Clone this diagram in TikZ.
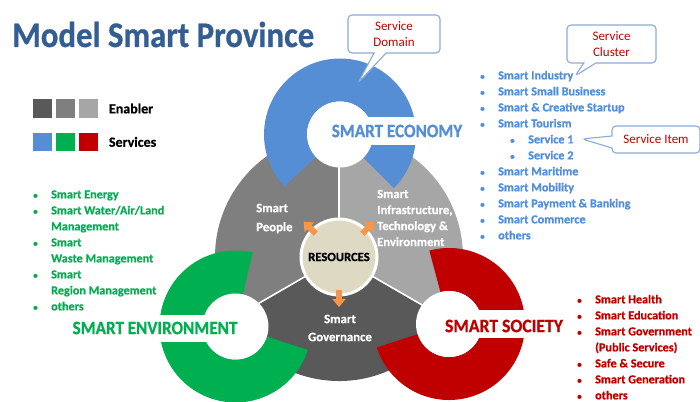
\documentclass[tikz,border=0pt]{standalone}
\usepackage{fontspec}
\setmainfont{Carlito}[BoldFeatures={FakeBold=0.8}]
\usepackage{graphicx}
\usepackage{tikz}
\usetikzlibrary{calc, arrows.meta, shapes.callouts, positioning}

\definecolor{titleblue}{RGB}{52,94,146}
\definecolor{econblue}{RGB}{85,142,213}
\definecolor{envgreen}{RGB}{0,176,80}
\definecolor{socred}{RGB}{192,0,0}
\definecolor{enabdark}{RGB}{89,89,89}
\definecolor{enabmid}{RGB}{127,127,127}
\definecolor{enablight}{RGB}{166,166,166}
\definecolor{resbeige}{RGB}{221,217,195}
\definecolor{arroworange}{RGB}{247,150,70}
\definecolor{callblue}{RGB}{141,170,214}

\newcommand{\blt}{\makebox[18pt][l]{\fontsize{9}{9}\selectfont\textbullet}}
\newcommand{\bltgap}{\makebox[18pt][l]{}}

\begin{document}
\begin{tikzpicture}[x=1pt, y=1pt,
	sectortext/.style={text=white, align=left, inner sep=0pt},
	ringlabel/.style={font=\fontsize{19}{19}\selectfont\bfseries, inner sep=0pt},
	listtext/.style={anchor=north west, inner sep=0pt, font=\fontsize{12.2}{16}\selectfont\bfseries},
	callbox/.style={rectangle callout, draw=callblue, line width=1.1pt, fill=white, rounded corners=4pt,
		text=socred, font=\fontsize{13}{15.5}\selectfont, align=center, inner sep=2pt, callout pointer width=12pt},
	hole/.style={circle, fill=white, inner sep=0pt, minimum size=66pt},
	legendsq/.style={minimum size=18.5pt, inner sep=0pt},
	resarrow/.style={draw=arroworange, line width=6pt, -{Triangle[length=8pt,width=13pt]}},
	divider/.style={draw=white, line width=1.6pt}]
	\useasboundingbox (0,0) rectangle (700,401);
	\fill[white] (0,0) rectangle (700,401);

	% title
	\node[anchor=base west, inner sep=0pt, text=titleblue] (title) at (12,354)
		{\fontsize{36}{36}\selectfont\bfseries\scalebox{0.91}[1]{Model Smart Province}};

	% legend
	\node[legendsq, fill=enabdark] (sqa) at (42.5,292.5) {};
	\node[legendsq, fill=enabmid, right=4pt of sqa] (sqb) {};
	\node[legendsq, fill=enablight, right=4pt of sqb] (sqc) {};
	\node[legendsq, fill=econblue, below=14.5pt of sqa] (sqd) {};
	\node[legendsq, fill=envgreen, right=4pt of sqd] (sqe) {};
	\node[legendsq, fill=socred, right=4pt of sqe] (sqf) {};
	\node[right=11pt of sqc, inner sep=0pt, font=\fontsize{14}{14}\selectfont\bfseries] (enabler) {Enabler};
	\node[right=11pt of sqf, inner sep=0pt, font=\fontsize{14}{14}\selectfont\bfseries] (services) {Services};

	% enabler disk
	\coordinate (hub) at (339,144);
	\fill[enabmid] (hub) -- ++(90:124) arc[start angle=90, end angle=210, radius=124] -- cycle;
	\fill[enablight] (hub) -- ++(-30:124) arc[start angle=-30, end angle=90, radius=124] -- cycle;
	\fill[enabdark] (hub) -- ++(210:124) arc[start angle=210, end angle=330, radius=124] -- cycle;
	\foreach \a in {90,210,330}
		\draw[divider] (hub) -- ++(\a:124);

	% service rings
	\coordinate (econ) at (340,266.5);
	\coordinate (env) at (235.5,74.5);
	\coordinate (soc) at (449,77);
	\fill[econblue] ($(econ)+(-45:76)$) arc[start angle=-45, end angle=223, radius=76]
		-- ($(econ)+(223:33)$) arc[start angle=223, end angle=-45, radius=33] -- cycle;
	\fill[envgreen] ($(env)+(77:76)$) arc[start angle=77, end angle=342, radius=76]
		-- ($(env)+(342:33)$) arc[start angle=342, end angle=77, radius=33] -- cycle;
	\fill[socred] ($(soc)+(198:76)$) arc[start angle=198, end angle=465, radius=76]
		-- ($(soc)+(465:33)$) arc[start angle=465, end angle=198, radius=33] -- cycle;
	\node[hole] (econhole) at (econ) {};
	\node[hole] (envhole) at (env) {};
	\node[hole] (sochole) at (soc) {};

	% ring labels
	\fill[white] (340,256) rectangle (478,284);
	\fill[white] (53,59) rectangle (235.5,86);
	\fill[white] (449,63) rectangle (585,91);
	\node[ringlabel, text=econblue] (econlabel) at (397,270) {\scalebox{0.9}[1]{SMART ECONOMY}};
	\node[ringlabel, text=envgreen] (envlabel) at (155,73) {\scalebox{0.9}[1]{SMART ENVIRONMENT}};
	\node[ringlabel, text=socred] (soclabel) at (504,75) {\scalebox{0.93}[1]{SMART SOCIETY}};

	% resources
	\node[circle, fill=resbeige, draw=white, line width=3pt, minimum size=76pt, inner sep=0pt,
		font=\fontsize{12.6}{12.6}\selectfont\bfseries] (res) at (hub) {RESOURCES};
	\foreach \a in {135,45,270}
		\draw[resarrow] ($(res.center)+(\a:33)$) -- ($(res.center)+(\a:50)$);

	% enabler texts
	\node[sectortext, anchor=west, font=\fontsize{12.8}{19}\selectfont\bfseries] (people) at (256,182.5) {Smart\\People};
	\node[sectortext, anchor=west, font=\fontsize{12.6}{16}\selectfont\bfseries] (infra) at (377,183)
		{Smart\\Infrastructure,\\Technology \&\\Environment};
	\node[sectortext, align=center, font=\fontsize{12.8}{18}\selectfont\bfseries] (gov) at (340,73) {Smart\\Governance};

	% service lists
	\node[listtext, text=econblue] (econlist) at (480,333) {%
		\begin{tabular}{@{}l@{}}
			\blt Smart Industry\\
			\blt Smart Small Business\\
			\blt Smart \& Creative Startup\\
			\blt Smart Tourism\\
			\hspace{30pt}\blt Service 1\\
			\hspace{30pt}\blt Service 2\\
			\blt Smart Maritime\\
			\blt Smart Mobility\\
			\blt Smart Payment \& Banking\\
			\blt Smart Commerce\\
			\blt others
		\end{tabular}};
	\node[listtext, text=envgreen] (envlist) at (33,214) {%
		\begin{tabular}{@{}l@{}}
			\blt Smart Energy\\
			\blt Smart Water/Air/Land\\
			\bltgap Management\\
			\blt Smart\\
			\bltgap Waste Management\\
			\blt Smart\\
			\bltgap Region Management\\
			\blt others
		\end{tabular}};
	\node[listtext, text=socred] (soclist) at (577,109) {%
		\begin{tabular}{@{}l@{}}
			\blt Smart Health\\
			\blt Smart Education\\
			\blt Smart Government\\
			\bltgap (Public Services)\\
			\blt Safe \& Secure\\
			\blt Smart Generation\\
			\blt others
		\end{tabular}};

	% callouts
	\coordinate (domaintip) at (358,318);
	\coordinate (clustertip) at (575,325);
	\coordinate (itemtip) at (582,262);
	\node[callbox, callout absolute pointer={(domaintip)}, minimum width=92pt, minimum height=38pt] (domain) at (394,367) {Service\\Domain};
	\node[callbox, callout absolute pointer={(clustertip)}, minimum width=89pt, minimum height=38pt] (cluster) at (611.5,357) {Service\\Cluster};
	\node[callbox, callout absolute pointer={(itemtip)}, minimum width=88pt, minimum height=27pt] (item) at (656,261.5) {Service Item};
\end{tikzpicture}
\end{document}
